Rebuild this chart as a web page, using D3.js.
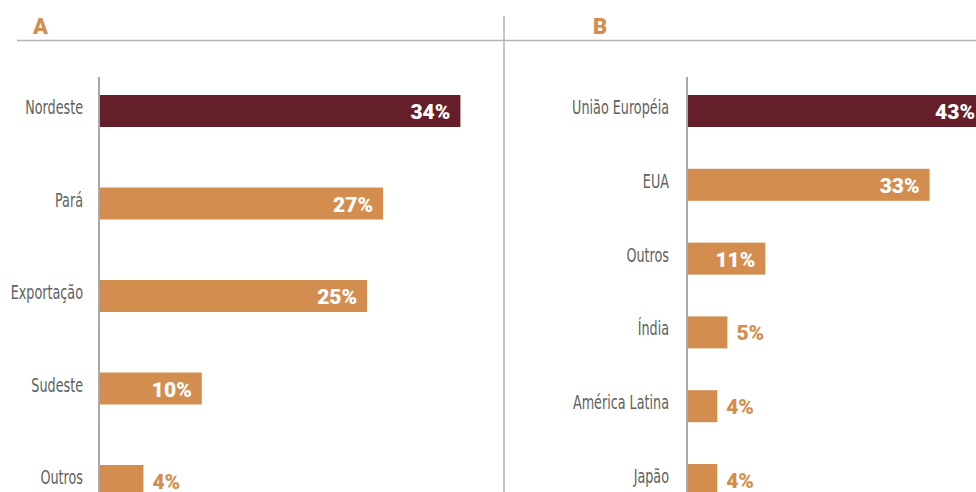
<!DOCTYPE html>
<html>
<head>
<meta charset="utf-8">
<script src="https://cdn.jsdelivr.net/npm/d3@7"></script>
<style>
  body { margin: 0; background: #fff; }
  svg { display: block; }
</style>
</head>
<body>
<div id="chart"><svg></svg></div>
<script>
// panel A
const catsA = ["Nordeste", "Pará", "Exportação", "Sudeste", "Outros"];
const valsA = [34, 26.7, 25.2, 9.6, 4.1];
const labelsA = ["34%", "27%", "25%", "10%", "4%"];

// panel B
const catsB = ["União Européia", "EUA", "Outros", "Índia", "América Latina", "Japão"];
const valsB = [43, 33.1, 10.6, 5.4, 4.0, 4.0];
const labelsB = ["43%", "33%", "11%", "5%", "4%", "4%"];

const panelTitles = ["A", "B"];

const width = 976, height = 492;
const dark = "#651f2a", orange = "#d38e4f", grey = "#b5b5b5";

const svg = d3.select("#chart svg")
    .attr("width", width)
    .attr("height", height);

// top rule and divider
svg.append("line")
    .attr("x1", 17).attr("x2", width)
    .attr("y1", 40.5).attr("y2", 40.5)
    .attr("stroke", grey).attr("stroke-width", 1.5);
svg.append("line")
    .attr("x1", 504).attr("x2", 504)
    .attr("y1", 16).attr("y2", height)
    .attr("stroke", grey).attr("stroke-width", 1.5);

function drawPanel(cats, vals, labels, title, opts) {
    const g = svg.append("g");

    g.append("text")
        .attr("x", opts.titleX)
        .attr("y", 34)
        .attr("fill", orange)
        .style("font-family", "Roboto, sans-serif")
        .style("font-weight", 900)
        .style("font-size", "22px")
        .text(title);

    const x = d3.scaleLinear()
        .domain([0, 1])
        .range([opts.x0, opts.x0 + opts.pxPer]);

    const n = cats.length;
    const pad = 1 - opts.bar / opts.step;
    const y = d3.scaleBand()
        .domain(cats)
        .range([95, 95 + (n - 1) * opts.step + opts.bar])
        .paddingInner(pad)
        .paddingOuter(0);

    g.selectAll("rect")
        .data(cats)
        .join("rect")
        .attr("x", x(0))
        .attr("y", d => y(d))
        .attr("width", (d, i) => x(vals[i]) - x(0))
        .attr("height", y.bandwidth())
        .attr("fill", (d, i) => i === 0 ? dark : orange);

    // axis line
    g.append("line")
        .attr("x1", x(0) - 1).attr("x2", x(0) - 1)
        .attr("y1", 77).attr("y2", height)
        .attr("stroke", "#a8a8a8").attr("stroke-width", 2);

    // category labels (condensed look)
    g.selectAll("text.cat")
        .data(cats)
        .join("text")
        .attr("class", "cat")
        .attr("transform", d => `translate(${x(0) - opts.gap},${y(d) + 19}) scale(0.71,1)`)
        .attr("text-anchor", "end")
        .attr("fill", "#606060")
        .style("font-family", "'DejaVu Sans Condensed', 'DejaVu Sans', sans-serif")
        .style("font-size", "20px")
        .text(d => d);

    // value labels
    g.selectAll("text.val")
        .data(cats)
        .join("text")
        .attr("class", "val")
        .attr("x", (d, i) => {
            const end = x(vals[i]);
            return end - x(0) > 60 ? Math.min(end - 10, width - 1) : end + 9;
        })
        .attr("y", d => y(d) + 24)
        .attr("text-anchor", (d, i) => x(vals[i]) - x(0) > 60 ? "end" : "start")
        .attr("fill", (d, i) => x(vals[i]) - x(0) > 60 ? "#fff" : orange)
        .style("font-family", "Roboto, sans-serif")
        .style("font-weight", 900)
        .style("font-size", "21px")
        .text((d, i) => labels[i]);
}

drawPanel(catsA, valsA, labelsA, panelTitles[0],
    { titleX: 33, x0: 100, pxPer: 10.6, step: 92.5, bar: 32, gap: 17 });
drawPanel(catsB, valsB, labelsB, panelTitles[1],
    { titleX: 593, x0: 688, pxPer: 7.3, step: 73.8, bar: 32, gap: 19 });
</script>
</body>
</html>
